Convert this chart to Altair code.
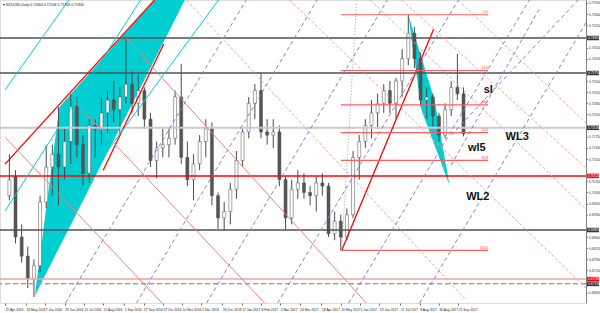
import altair as alt
import pandas as pd

# ---------------- data ----------------
candle_dates = [
    "2016-04-27", "2016-05-04", "2016-05-11", "2016-05-18", "2016-05-25", "2016-06-01",
    "2016-06-08", "2016-06-15", "2016-06-22", "2016-06-29", "2016-07-06", "2016-07-13",
    "2016-07-20", "2016-07-27", "2016-08-03", "2016-08-10", "2016-08-17", "2016-08-24",
    "2016-08-31", "2016-09-07", "2016-09-14", "2016-09-21", "2016-09-28", "2016-10-05",
    "2016-10-12", "2016-10-19", "2016-10-26", "2016-11-02", "2016-11-09", "2016-11-16",
    "2016-11-23", "2016-11-30", "2016-12-07", "2016-12-14", "2016-12-21", "2016-12-28",
    "2017-01-04", "2017-01-11", "2017-01-18", "2017-01-25", "2017-02-01", "2017-02-08",
    "2017-02-15", "2017-02-22", "2017-03-01", "2017-03-08", "2017-03-15", "2017-03-22",
    "2017-03-29", "2017-04-05", "2017-04-12", "2017-04-19", "2017-04-26", "2017-05-03",
    "2017-05-10", "2017-05-17", "2017-05-24", "2017-05-31", "2017-06-07", "2017-06-14",
    "2017-06-21", "2017-06-28", "2017-07-05", "2017-07-12", "2017-07-19", "2017-07-26",
    "2017-08-02", "2017-08-09", "2017-08-16", "2017-08-23", "2017-08-30", "2017-09-06",
    "2017-09-13", "2017-09-20", "2017-09-27",
]
opens = [
    0.6990, 0.7050, 0.6860, 0.6800, 0.6730, 0.6770, 0.6970, 0.7080, 0.7120, 0.7080, 0.7160, 0.7270,
    0.7150, 0.7060, 0.7210, 0.7200, 0.7250, 0.7290, 0.7260, 0.7300, 0.7340, 0.7280, 0.7320, 0.7230,
    0.7100, 0.7140, 0.7150, 0.7170, 0.7300, 0.7110, 0.7040, 0.7090, 0.7160, 0.7200, 0.6990, 0.6920,
    0.6940, 0.7010, 0.7100, 0.7190, 0.7280, 0.7320, 0.7190, 0.7180, 0.7190, 0.7040, 0.6920, 0.7010,
    0.7030, 0.7000, 0.6990, 0.7030, 0.7020, 0.6870, 0.6910, 0.6860, 0.6930, 0.7110, 0.7160, 0.7210,
    0.7250, 0.7280, 0.7320, 0.7280, 0.7350, 0.7420, 0.7500, 0.7420, 0.7290, 0.7300, 0.7240, 0.7180,
    0.7260, 0.7330, 0.7310,
]
highs = [
    0.7120, 0.7070, 0.6900, 0.6830, 0.6790, 0.6990, 0.7150, 0.7150, 0.7268, 0.7200, 0.7310, 0.7300,
    0.7180, 0.7230, 0.7230, 0.7300, 0.7320, 0.7350, 0.7330, 0.7485, 0.7380, 0.7370, 0.7330, 0.7250,
    0.7160, 0.7200, 0.7200, 0.7320, 0.7403, 0.7160, 0.7120, 0.7180, 0.7230, 0.7220, 0.7000, 0.6970,
    0.7030, 0.7130, 0.7200, 0.7300, 0.7340, 0.7375, 0.7230, 0.7230, 0.7210, 0.7050, 0.7040, 0.7070,
    0.7060, 0.7020, 0.7050, 0.7060, 0.7030, 0.6940, 0.6930, 0.6950, 0.7130, 0.7180, 0.7230, 0.7290,
    0.7310, 0.7340, 0.7350, 0.7360, 0.7450, 0.7558, 0.7520, 0.7440, 0.7330, 0.7310, 0.7250, 0.7280,
    0.7350, 0.7435, 0.7330,
]
lows = [
    0.6975, 0.6840, 0.6780, 0.6700, 0.6672, 0.6750, 0.6950, 0.6990, 0.6960, 0.7040, 0.7090, 0.7110,
    0.7020, 0.7030, 0.7110, 0.7150, 0.7190, 0.7220, 0.7180, 0.7280, 0.7250, 0.7240, 0.7200, 0.7080,
    0.7045, 0.7110, 0.7110, 0.7150, 0.7090, 0.7020, 0.6975, 0.7070, 0.7110, 0.6960, 0.6885, 0.6880,
    0.6900, 0.6980, 0.7080, 0.7170, 0.7230, 0.7170, 0.7150, 0.7140, 0.7020, 0.6885, 0.6900, 0.6980,
    0.6980, 0.6960, 0.6940, 0.6990, 0.6860, 0.6850, 0.6818, 0.6850, 0.6920, 0.7040, 0.7140, 0.7170,
    0.7200, 0.7250, 0.7250, 0.7230, 0.7300, 0.7400, 0.7390, 0.7270, 0.7230, 0.7200, 0.7160, 0.7170,
    0.7240, 0.7290, 0.7176,
]
closes = [
    0.7040, 0.6860, 0.6800, 0.6730, 0.6770, 0.6970, 0.7080, 0.7120, 0.7080, 0.7160, 0.7270, 0.7150,
    0.7060, 0.7210, 0.7200, 0.7250, 0.7290, 0.7260, 0.7300, 0.7340, 0.7280, 0.7320, 0.7230, 0.7100,
    0.7140, 0.7150, 0.7170, 0.7300, 0.7110, 0.7040, 0.7090, 0.7160, 0.7200, 0.6990, 0.6920, 0.6940,
    0.7010, 0.7100, 0.7190, 0.7280, 0.7320, 0.7190, 0.7180, 0.7190, 0.7040, 0.6920, 0.7010, 0.7030,
    0.7000, 0.6990, 0.7030, 0.7020, 0.6870, 0.6910, 0.6860, 0.6930, 0.7110, 0.7160, 0.7210, 0.7250,
    0.7280, 0.7320, 0.7280, 0.7350, 0.7420, 0.7500, 0.7420, 0.7290, 0.7300, 0.7240, 0.7180, 0.7260,
    0.7330, 0.7310, 0.7184,
]

x_tick_dates = [
    (2016, 4, 22), (2016, 5, 16), (2016, 6, 7), (2016, 6, 29), (2016, 7, 21), (2016, 8, 12),
    (2016, 9, 5), (2016, 9, 27), (2016, 10, 19), (2016, 11, 10), (2016, 12, 2), (2016, 12, 26),
    (2017, 1, 17), (2017, 2, 8), (2017, 3, 2), (2017, 3, 24), (2017, 4, 18), (2017, 5, 10),
    (2017, 6, 1), (2017, 6, 23), (2017, 7, 17), (2017, 8, 8), (2017, 8, 30), (2017, 9, 21),
]
# tick labels (those hidden under the highlighted boxes are left out)
y_ticks = [
    0.7595, 0.7560, 0.7525, 0.7455, 0.7420, 0.7350, 0.7315, 0.7280, 0.7245,
    0.7175, 0.7140, 0.7105, 0.7035, 0.7000, 0.6965, 0.6930, 0.6860,
    0.6825, 0.6790, 0.6755, 0.6685,
]

# horizontal levels
hline_prices = [0.7485, 0.7375, 0.7203, 0.7052, 0.6882, 0.6728, 0.6713]
hline_kinds = ["black", "black", "grey", "red", "black", "pink", "dash"]

# fibonacci retracement (May-2017 low to July-2017 high)
fib_levels = ["0.0", "23.6", "38.2", "50.0", "61.8", "100.0"]
fib_prices = [0.7558, 0.7383, 0.7275, 0.7188, 0.7101, 0.6818]
fib_start = "2017-05-10"
fib_end = "2017-10-25"

# trend lines: kind, start date, start price, end date, end price
seg_kind = ["red", "red", "red",
            "cyan", "cyan", "cyan",
            "coral", "coral", "coral",
            "pinkdash", "pinkdash", "pinkdash", "pinkdash", "pinkdash",
            "bluedash", "bluedash", "bluedash", "bluedash", "bluedash", "bluedash", "bluedash", "bluedash",
            "greydot"]
seg_d1 = ["2016-04-22", "2016-08-12", "2017-05-11",
          "2016-04-22", "2016-04-22", "2016-08-01",
          "2016-09-07", "2016-07-09", "2016-04-22",
          "2016-11-15", "2017-03-13", "2017-06-13", "2017-07-19", "2017-09-21",
          "2016-06-30", "2016-09-19", "2016-12-08", "2017-02-27", "2017-05-19", "2017-08-08", "2017-09-13", "2017-09-13",
          "2017-05-11"]
seg_p1 = [0.7089, 0.7070, 0.6818,
          0.7322, 0.6942, 0.7071,
          0.7485, 0.7290, 0.7174,
          0.7604, 0.7604, 0.7604, 0.7604, 0.7604,
          0.6653, 0.6653, 0.6653, 0.6653, 0.6653, 0.6653, 0.7086, 0.7180,
          0.6818]
seg_d2 = ["2016-10-20", "2016-10-20", "2017-08-24",
          "2016-07-12", "2016-10-01", "2016-12-30",
          "2017-06-08", "2017-02-12", "2016-10-18",
          "2017-09-30", "2018-02-23", "2018-02-23", "2018-02-23", "2018-02-23",
          "2017-01-22", "2017-04-13", "2017-07-02", "2017-09-21", "2017-12-11", "2018-03-01", "2017-12-23", "2018-02-08",
          "2017-05-28"]
seg_p2 = [0.7636, 0.7466, 0.7513,
          0.7636, 0.7636, 0.7636,
          0.6653, 0.6653, 0.6653,
          0.6662, 0.6675, 0.6923, 0.7053, 0.7193,
          0.7604, 0.7604, 0.7604, 0.7604, 0.7604, 0.7604, 0.7579, 0.7614,
          0.7595]

# filled cyan shapes (vertex date, price)
left_shape = [("2016-05-26", 0.6676), ("2016-06-23", 0.7268), ("2016-10-20", 0.7636), ("2016-11-19", 0.7636)]
right_shape = [("2017-07-26", 0.7557), ("2017-08-10", 0.7259), ("2017-08-25", 0.7290), ("2017-09-11", 0.7023)]

label_text = ["sl", "wl5", "WL3", "WL2"]
label_dates = ["2017-10-20", "2017-10-02", "2017-11-14", "2017-09-30"]
label_prices = [0.7322, 0.7140, 0.7174, 0.6986]

box_prices = [0.7485, 0.7375, 0.7203, 0.7052, 0.6882, 0.6728, 0.6713]
box_kinds = ["dark", "dark", "dark", "red", "dark", "red", "dark"]

title_text = "\u25BE NZDUSD,Daily  0.72064 0.72108 0.71766 0.71844"

# ---------------- styles ----------------
CYAN = "#00CED1"
hstyle = {
    "black": dict(color="#505050", strokeWidth=1.5),
    "grey": dict(color="#c9c9d9", strokeWidth=2),
    "red": dict(color="#ff0000", strokeWidth=1.5),
    "pink": dict(color="#f4a0a0", strokeWidth=1.5),
    "dash": dict(color="#a0a0a0", strokeWidth=1.5, strokeDash=[5, 3]),
}
sstyle = {
    "red": dict(color="#ff0000", strokeWidth=1.3),
    "cyan": dict(color=CYAN, strokeWidth=1),
    "coral": dict(color="#f08080", strokeWidth=1),
    "pinkdash": dict(color="#f4a0a0", strokeWidth=1, strokeDash=[3, 2]),
    "bluedash": dict(color="#7f7fdc", strokeWidth=1, strokeDash=[4, 3]),
    "greydot": dict(color="#9a9a9a", strokeWidth=1, strokeDash=[1, 2]),
}
boxcolor = {"dark": "#303030", "red": "#ff0000"}

# ---------------- helpers (polygon geometry) ----------------
def ms(s):
    return pd.Timestamp(s).value / 1e6

def iso(n):
    return pd.Timestamp(int(n * 1e6)).strftime("%Y-%m-%dT%H:%M:%SZ")

def price_at(d, a, b):
    t = (ms(d) - ms(a[0])) / (ms(b[0]) - ms(a[0]))
    return a[1] + t * (b[1] - a[1])

rows = []
# left shape: apex v0, upper edge v0-v1-v2, lower edge v0-v3
v0, v1, v2, v3 = left_shape
rows += [dict(poly="L", date=v0[0], up=v0[1], lo=v0[1]),
         dict(poly="L", date=v1[0], up=v1[1], lo=price_at(v1[0], v0, v3)),
         dict(poly="L", date=v2[0], up=v2[1], lo=price_at(v2[0], v0, v3)),
         dict(poly="L", date=v3[0], up=v3[1], lo=v3[1])]
# right shape: top A, left B, right D, bottom C
A, B, D, C = right_shape
rows += [dict(poly="R", date=A[0], up=A[1], lo=A[1]),
         dict(poly="R", date=B[0], up=price_at(B[0], A, D), lo=B[1]),
         dict(poly="R", date=D[0], up=D[1], lo=price_at(D[0], B, C)),
         dict(poly="R", date=C[0], up=C[1], lo=C[1])]
poly_df = pd.DataFrame(rows)

cdf = pd.DataFrame(dict(date=candle_dates, open=opens, high=highs, low=lows, close=closes))
cdf["dir"] = ["up" if c >= o else "down" for o, c in zip(opens, closes)]

hdf = pd.DataFrame(dict(price=hline_prices, kind=hline_kinds))
sdf = pd.DataFrame(dict(kind=seg_kind, d1=seg_d1, p1=seg_p1, d2=seg_d2, p2=seg_p2))
fdf = pd.DataFrame(dict(level=fib_levels, price=fib_prices))
fdf["d1"] = fib_start
fdf["d2"] = fib_end
ldf = pd.DataFrame(dict(text=label_text, date=label_dates, price=label_prices))
bdf = pd.DataFrame(dict(price=box_prices, kind=box_kinds))
bdf["label"] = [f"{p:.5f}" for p in box_prices]

# ---------------- scales / axes ----------------
FONT = "Liberation Sans"
xs = alt.Scale(type="utc", nice=False,
               domain=[alt.DateTime(year=2016, month=4, date=22, utc=True),
                       alt.DateTime(year=2018, month=2, date=8, utc=True)])
ys = alt.Scale(domain=[0.66529, 0.76043], nice=False, zero=False)
xax = alt.Axis(values=[alt.DateTime(year=y, month=m, date=d, utc=True) for (y, m, d) in x_tick_dates],
               labelExpr="utcFormat(datum.value, '%-d %b %Y')", title=None, grid=False,
               labelFontSize=3.3, labelFont=FONT, labelColor="#222", labelAlign="left",
               labelPadding=2, tickSize=2, tickColor="#666", domain=False,
               labelOverlap=False, labelFlush=False)
yax = alt.Axis(orient="right", values=y_ticks, format=".5f", title=None, grid=False,
               labelFontSize=3.3, labelFont=FONT, labelColor="#333", labelAlign="left",
               labelPadding=1, tickSize=1.5, tickColor="#808080", domainColor="#808080",
               labelOverlap=False, labelFlush=False)

def X(f):
    return alt.X(f, scale=xs, axis=xax)

def Y(f):
    return alt.Y(f, scale=ys, axis=yax)

layers = []
# cyan filled shapes
for pid in ["L", "R"]:
    layers.append(alt.Chart(poly_df[poly_df.poly == pid]).mark_area(
        color=CYAN, clip=True, opacity=1, interpolate="linear").encode(
        x=X("date:T"), y=Y("up:Q"), y2="lo:Q"))

# candles
layers.append(alt.Chart(cdf).mark_rule(color="#4a4a4a", strokeWidth=1).encode(
    x=X("date:T"), y=Y("low:Q"), y2="high:Q"))
layers.append(alt.Chart(cdf).mark_bar(size=3, stroke="#4a4a4a", strokeWidth=0.5).encode(
    x=X("date:T"), y=Y("open:Q"), y2="close:Q",
    fill=alt.Fill("dir:N", scale=alt.Scale(domain=["up", "down"], range=["#ffffff", "#555555"]), legend=None)))

# horizontal lines
for k, st in hstyle.items():
    sub = hdf[hdf.kind == k]
    if len(sub):
        layers.append(alt.Chart(sub).mark_rule(clip=True, **st).encode(y=Y("price:Q")))

# trend lines
for k, st in sstyle.items():
    sub = sdf[sdf.kind == k]
    if len(sub):
        layers.append(alt.Chart(sub).mark_rule(clip=True, **st).encode(
            x=X("d1:T"), x2="d2:T", y=Y("p1:Q"), y2="p2:Q"))

# fibonacci
layers.append(alt.Chart(fdf).mark_rule(color="#ff5e5e", strokeWidth=1.2, clip=True).encode(
    x=X("d1:T"), x2="d2:T", y=Y("price:Q")))
layers.append(alt.Chart(fdf).mark_text(align="right", baseline="bottom", fontSize=3.3, font=FONT,
                                        color="#ff3030", dy=-0.5).encode(
    x=X("d2:T"), y=Y("price:Q"), text="level:N"))

# annotation labels
layers.append(alt.Chart(ldf).mark_text(align="left", baseline="middle", fontSize=11, font=FONT,
                                        fontWeight="bold", color="#111111").encode(
    x=X("date:T"), y=Y("price:Q"), text="text:N"))

# highlighted price boxes on the axis
for k, col in boxcolor.items():
    sub = bdf[bdf.kind == k]
    layers.append(alt.Chart(sub).mark_rule(color=col, strokeWidth=4.5).encode(
        y=Y("price:Q"), x=alt.value(587), x2=alt.value(599)))
layers.append(alt.Chart(bdf).mark_text(align="left", baseline="middle", fontSize=3.3, font=FONT,
                                        color="white").encode(
    y=Y("price:Q"), x=alt.value(588), text="label:N"))

# title text
layers.append(alt.Chart(pd.DataFrame(dict(t=[title_text]))).mark_text(
    align="left", baseline="top", fontSize=3.5, font=FONT, color="#222").encode(
    x=alt.value(3), y=alt.value(3), text="t:N"))

chart = alt.layer(*layers).properties(
    width=586, height=303,
    padding={"left": 0, "top": 0, "right": 14, "bottom": 10},
    autosize=alt.AutoSizeParams(type="none"),
).configure_view(stroke="#606060", strokeWidth=1).configure(background="white", font=FONT)

chart.save("out.html", embed_options={"renderer": "svg", "actions": False})
